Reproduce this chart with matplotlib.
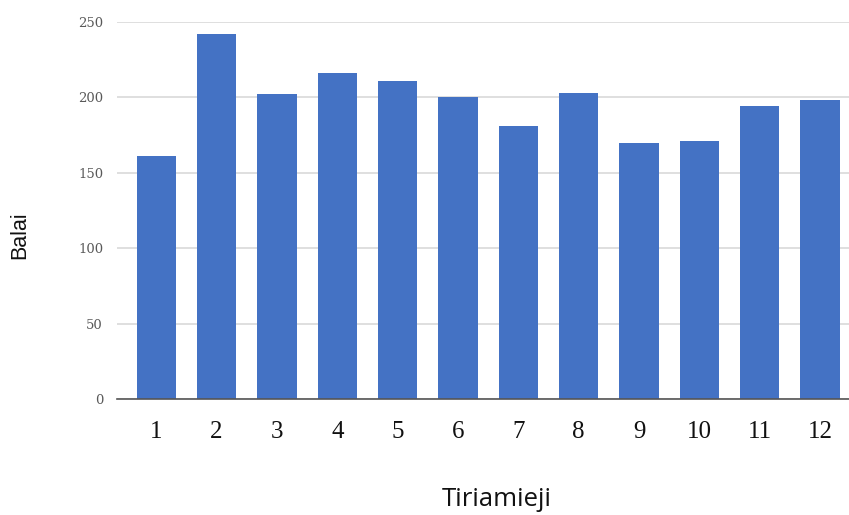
import matplotlib
matplotlib.use("Agg")
import matplotlib.pyplot as plt

categories = ["1", "2", "3", "4", "5", "6", "7", "8", "9", "10", "11", "12"]
values = [161, 242, 202, 216, 211, 200, 181, 203, 170, 171, 194, 198]
y_ticks = [0, 50, 100, 150, 200, 250]

fig = plt.figure(figsize=(8.49, 5.15), dpi=100)
ax = fig.add_axes([117 / 849, 1 - 399 / 515, (849 - 117) / 849, (399 - 22) / 515])

x = list(range(1, len(categories) + 1))
ax.bar(x, values, width=0.65, color="#4472C4", zorder=3)

ax.set_xlim(0.35, 12.48)
ax.set_ylim(0, 250)
ax.set_yticks(y_ticks)
ax.set_yticklabels([str(t) for t in y_ticks], family="DejaVu Serif", fontsize=9.5, color="#595959")
ax.set_xticks(x)
ax.set_xticklabels(categories, family="Liberation Serif", fontsize=18, color="#111111")
ax.tick_params(axis="both", length=0)
ax.tick_params(axis="y", pad=10)
ax.tick_params(axis="x", pad=16)

ax.grid(axis="y", color="#d9d9d9", linewidth=1.2, zorder=0)
for side in ["top", "right", "left"]:
    ax.spines[side].set_visible(False)
ax.spines["bottom"].set_color("#555555")
ax.spines["bottom"].set_linewidth(1.2)
ax.spines["bottom"].set_zorder(4)

fig.text(497 / 849, 1 - 500 / 515, "Tiriamieji", ha="center", va="center",
         family="Open Sans", fontsize=18.5, color="#111111")
fig.text(20 / 849, 1 - 235 / 515, "Balai", ha="center", va="center", rotation=90,
         family="Liberation Sans", fontsize=15.5, color="#111111")

fig.savefig("out.png", dpi=100)
